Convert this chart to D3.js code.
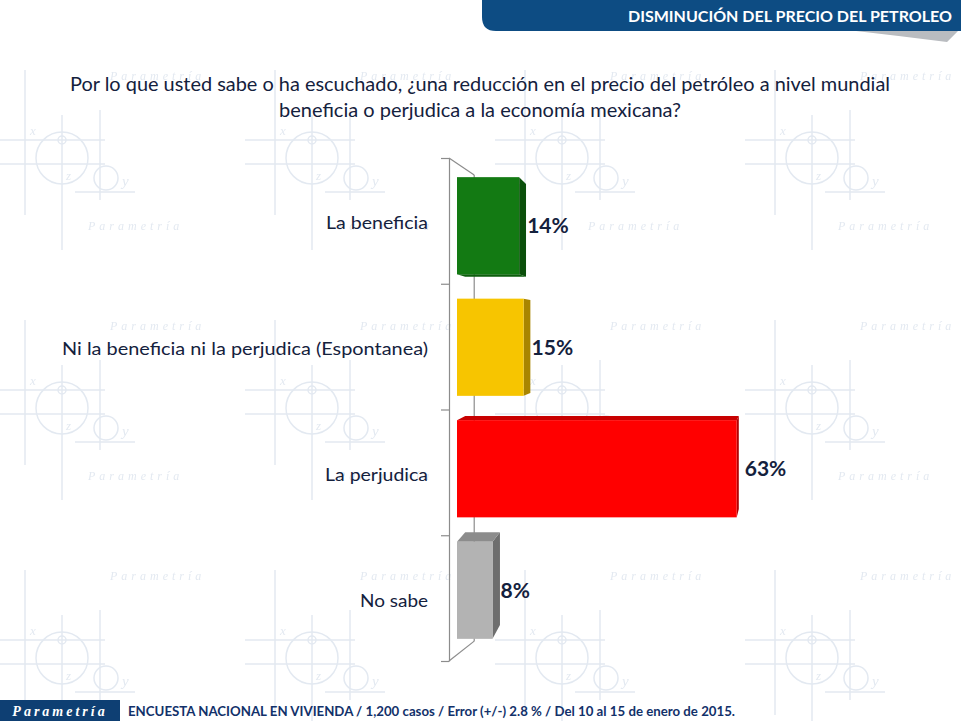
<!DOCTYPE html>
<html>
<head>
<meta charset="utf-8">
<script src="https://cdn.jsdelivr.net/npm/d3@7"></script>
<style>
  html, body { margin: 0; padding: 0; background: #fff; }
  svg { display: block; }
</style>
</head>
<body>
<div id="chart"></div>
<script>
// Chart data
var categories = ['La beneficia', 'Ni la beneficia ni la perjudica (Espontanea)', 'La perjudica', 'No sabe'];
var values = [14, 15, 63, 8];
var valueLabels = ['14%', '15%', '63%', '8%'];
var headerText = 'DISMINUCIÓN DEL PRECIO DEL PETROLEO';
var titleLines = [
  'Por lo que usted sabe o ha escuchado, ¿una reducción en el precio del petróleo a nivel mundial',
  'beneficia o perjudica a la economía mexicana?'
];
var footerText = 'ENCUESTA NACIONAL EN VIVIENDA / 1,200 casos / Error (+/-) 2.8 % / Del 10 al 15 de enero de 2015.';
var logoText = 'Parametría';

// Bar palette: front, side, top/bottom
var palette = [
  { front: '#137a13', side: '#0b4f0b', cap: '#0d5e0d' },
  { front: '#f7c500', side: '#a98500', cap: '#c9a000' },
  { front: '#ff0000', side: '#b00000', cap: '#c80000' },
  { front: '#b3b3b3', side: '#6e6e6e', cap: '#8c8c8c' }
];

var width = 961;
var height = 721;
var font = 'Lato, "Open Sans", sans-serif';
var navy = '#14213d';

var svg = d3.select('#chart').append('svg')
  .attr('width', width)
  .attr('height', height);

// Background watermark tile
var defs = svg.append('defs');
var wm = defs.append('pattern')
  .attr('id', 'wm')
  .attr('patternUnits', 'userSpaceOnUse')
  .attr('x', -40).attr('y', 40)
  .attr('width', 250).attr('height', 250);
var wmColor = '#e3e9f1';
wm.append('g')
  .attr('fill', 'none')
  .attr('stroke', wmColor)
  .attr('stroke-width', 1.5)
  .call(function (g) {
    g.append('line').attr('x1', 65).attr('y1', 30).attr('x2', 65).attr('y2', 175);
    g.append('line').attr('x1', 102).attr('y1', 75).attr('x2', 102).attr('y2', 210);
    g.append('line').attr('x1', 140).attr('y1', 70).attr('x2', 140).attr('y2', 160);
    g.append('line').attr('x1', 35).attr('y1', 100).attr('x2', 145).attr('y2', 100);
    g.append('line').attr('x1', 35).attr('y1', 124).attr('x2', 145).attr('y2', 124);
    g.append('line').attr('x1', 115).attr('y1', 152).attr('x2', 175).attr('y2', 152);
    g.append('circle').attr('cx', 102).attr('cy', 118).attr('r', 26);
    g.append('circle').attr('cx', 102).attr('cy', 100).attr('r', 4);
    g.append('circle').attr('cx', 146).attr('cy', 138).attr('r', 12);
  });
wm.append('g')
  .attr('fill', wmColor)
  .attr('font-family', '"Liberation Serif", serif')
  .attr('font-style', 'italic')
  .call(function (g) {
    g.append('text').attr('x', 70).attr('y', 95).attr('font-size', 13).text('x');
    g.append('text').attr('x', 106).attr('y', 140).attr('font-size', 13).text('z');
    g.append('text').attr('x', 162).attr('y', 146).attr('font-size', 15).text('y');
    g.append('text').attr('x', 128).attr('y', 190).attr('font-size', 12)
      .attr('letter-spacing', 4).text('Parametría');
    g.append('text').attr('x', 150).attr('y', 40).attr('font-size', 12)
      .attr('letter-spacing', 4).text('Parametría');
  });
svg.append('rect')
  .attr('width', width).attr('height', height)
  .attr('fill', 'url(#wm)');

// Header banner
svg.append('path')
  .attr('d', 'M482,0H961V31H496Q482,31 482,17Z')
  .attr('fill', '#0d4c83');
svg.append('path')
  .attr('d', 'M856,31H958L947,42Q900,36 856,31Z')
  .attr('fill', '#b9bcc0');
var header = svg.append('text')
  .attr('x', 952).attr('y', 22)
  .attr('text-anchor', 'end')
  .attr('font-family', font)
  .attr('font-weight', 'bold')
  .attr('font-size', 15.5)
  .attr('fill', '#fff')
  .text(headerText);

// Fit text to the width it takes in the original layout
function fitText(sel, w) {
  sel.each(function () {
    var n = this.getComputedTextLength();
    if (Math.abs(n - w) > 2) {
      d3.select(this).attr('textLength', w).attr('lengthAdjust', 'spacingAndGlyphs');
    }
  });
}
fitText(header, 324);

// Title
var titleWidths = [820, 401];
svg.append('g')
  .selectAll('text')
  .data(titleLines)
  .join('text')
  .attr('x', 480)
  .attr('y', function (d, i) { return 91 + i * 26; })
  .attr('text-anchor', 'middle')
  .attr('font-family', font)
  .attr('font-size', 20)
  .attr('fill', navy)
  .text(function (d) { return d; })
  .each(function (d, i) { fitText(d3.select(this), titleWidths[i]); });

// Scales
var x = d3.scaleLinear()
  .domain([0, 100])
  .range([457, 901]);

var y = d3.scaleBand()
  .domain(categories)
  .range([165, 651])
  .paddingInner(0.2)
  .paddingOuter(0.1);

var wall = d3.scaleLinear()
  .domain([0, categories.length])
  .range([158, 661]);

// Perspective helper: push a front point towards the vanishing point
var vanish = { x: 831, y: 330 };
function back(px, py, kx, ky) {
  return [px + kx * (vanish.x - px), py + ky * (vanish.y - py)];
}

// Back wall of the 3D frame
var wallX = 449;
var wallTop = back(wallX, wall(0), 0.066, 0.099);
var wallBot = back(wallX, wall(categories.length), 0.066, 0.06);
var frame = svg.append('g')
  .attr('fill', 'none')
  .attr('stroke', '#8c8c8c')
  .attr('stroke-width', 1.2);
frame.append('line')
  .attr('x1', wallX).attr('y1', wall(0))
  .attr('x2', wallTop[0]).attr('y2', wallTop[1]);
frame.append('line')
  .attr('x1', wallX).attr('y1', wall(categories.length))
  .attr('x2', wallBot[0]).attr('y2', wallBot[1]);
frame.append('line')
  .attr('x1', wallTop[0]).attr('y1', wallTop[1])
  .attr('x2', wallBot[0]).attr('y2', wallBot[1]);

// Axis with small ticks at the category boundaries
var axis = d3.axisLeft(wall)
  .ticks(categories.length)
  .tickSizeInner(8)
  .tickSizeOuter(0)
  .tickFormat('');
svg.append('g')
  .attr('transform', 'translate(' + wallX + ',0)')
  .call(axis)
  .call(function (g) {
    g.selectAll('path, line').attr('stroke', '#8c8c8c').attr('stroke-width', 1.2);
  });

// 3D bars
var kx = 0.022;
var ky = 0.045;
var bars = svg.append('g')
  .selectAll('g')
  .data(values)
  .join('g');

bars.each(function (v, i) {
  var g = d3.select(this);
  var c = palette[i];
  var x0 = x(0);
  var x1 = x(v);
  var y0 = y(categories[i]);
  var y1 = y0 + y.bandwidth();
  var tl = back(x0, y0, kx, ky);
  var tr = back(x1, y0, kx, ky);
  var br = back(x1, y1, kx, ky);
  var bl = back(x0, y1, kx, ky);
  var poly = function (pts) { return 'M' + pts.map(function (p) { return p.join(','); }).join('L') + 'Z'; };

  // side face
  g.append('path')
    .attr('d', poly([[x1, y0], tr, br, [x1, y1]]))
    .attr('fill', c.side);
  // top face
  if (tr[1] < y0) {
    g.append('path')
      .attr('d', poly([[x0, y0], [x1, y0], tr, tl]))
      .attr('fill', c.cap);
  }
  // bottom face
  if (br[1] > y1) {
    g.append('path')
      .attr('d', poly([[x0, y1], [x1, y1], br, bl]))
      .attr('fill', c.cap);
  }
  // front face
  g.append('rect')
    .attr('x', x0)
    .attr('y', y0)
    .attr('width', x1 - x0)
    .attr('height', y.bandwidth())
    .attr('fill', c.front);

  // value label
  g.append('text')
    .attr('x', x1 + 8)
    .attr('y', (y0 + y1) / 2)
    .attr('dy', '0.36em')
    .attr('font-family', font)
    .attr('font-weight', 'bold')
    .attr('font-size', 21)
    .attr('fill', navy)
    .text(valueLabels[i]);
});

// Category labels, centred on the front plane of the frame
var labelWidths = [102, 366, 103, 68];
svg.append('g')
  .selectAll('text')
  .data(categories)
  .join('text')
  .attr('x', 428)
  .attr('y', function (d, i) { return (wall(i) + wall(i + 1)) / 2 + 2; })
  .attr('dy', '0.36em')
  .attr('text-anchor', 'end')
  .attr('font-family', font)
  .attr('font-size', 18)
  .attr('fill', navy)
  .text(function (d) { return d; })
  .each(function (d, i) { fitText(d3.select(this), labelWidths[i]); });

// Footer
svg.append('rect')
  .attr('x', 0).attr('y', 700)
  .attr('width', 120).attr('height', 21)
  .attr('fill', '#0e3f73');
svg.append('text')
  .attr('x', 60).attr('y', 716)
  .attr('text-anchor', 'middle')
  .attr('font-family', '"Liberation Serif", serif')
  .attr('font-style', 'italic')
  .attr('font-weight', 'bold')
  .attr('font-size', 14)
  .attr('letter-spacing', 3)
  .attr('fill', '#fff')
  .text(logoText);
var foot = svg.append('text')
  .attr('x', 128).attr('y', 716)
  .attr('font-family', font)
  .attr('font-weight', 'bold')
  .attr('font-size', 14)
  .attr('fill', '#12316a')
  .text(footerText);
fitText(foot, 607);
</script>
</body>
</html>
